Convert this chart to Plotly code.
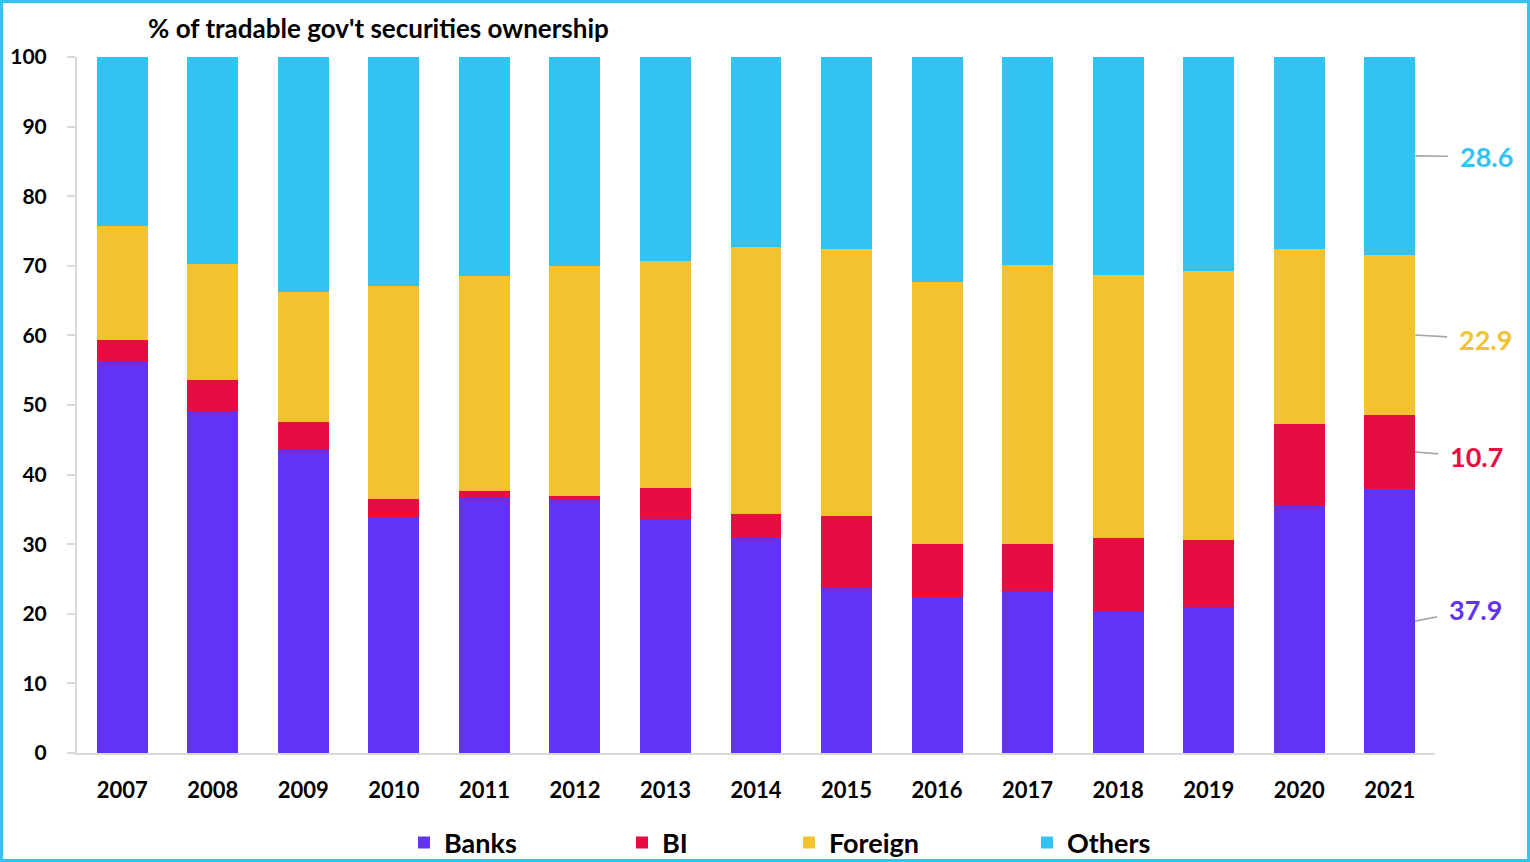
import plotly.graph_objects as go

years = ["2007", "2008", "2009", "2010", "2011", "2012", "2013", "2014",
         "2015", "2016", "2017", "2018", "2019", "2020", "2021"]
banks = [56.2, 49.1, 43.5, 33.9, 36.6, 36.5, 33.6, 30.9, 23.9, 22.4, 23.3, 20.3, 21.0, 35.5, 37.9]
bi = [3.1, 4.5, 4.1, 2.6, 1.0, 0.4, 4.5, 3.4, 10.2, 7.6, 6.7, 10.6, 9.6, 11.8, 10.7]
foreign = [16.4, 16.7, 18.6, 30.6, 30.9, 33.1, 32.6, 38.4, 38.3, 37.7, 40.1, 37.8, 38.7, 25.1, 22.9]
others = [24.3, 29.7, 33.8, 32.9, 31.5, 30.0, 29.3, 27.3, 27.6, 32.3, 29.9, 31.3, 30.7, 27.6, 28.6]

series_names = ["Banks", "BI", "Foreign", "Others"]
series_vals = [banks, bi, foreign, others]
colors = ["#6333F5", "#E60D43", "#F2C230", "#33C3F3"]

FONT = "Lato"
W, H = 1530, 862
ML, MR, MT, MB = 77, 95, 57, 109
PW, PH = W - ML - MR, H - MT - MB
BARGAP = 0.437

fig = go.Figure()
legend_names = ["legend", "legend2", "legend3", "legend4"]
for name, vals, col, lg in zip(series_names, series_vals, colors, legend_names):
    fig.add_trace(go.Bar(x=years, y=vals, name=name, marker=dict(color=col, line=dict(width=0)),
                         legend=lg))

# legends positioned individually (pixel x of each item start), relative to the container
legend_px = [404, 622, 789, 1027]
legend_cfg = {}
for lg, px in zip(legend_names, legend_px):
    legend_cfg[lg] = dict(
        xref="container", yref="container",
        x=px / W, xanchor="left",
        y=1 - 843 / H, yanchor="middle",
        orientation="h", bgcolor="rgba(0,0,0,0)",
        font=dict(family=FONT, size=27, color="#000000", weight="bold"),
        borderwidth=0,
    )

# right-side labels for last year
label_offsets = [(60, -12), (61, 5), (70, 4), (71, 1)]
cum = 0
annotations = []
half = (1 - BARGAP) / 2
for vals, col, (ax, ay) in zip(series_vals, colors, label_offsets):
    v = vals[-1]
    mid = cum + v / 2
    cum += v
    annotations.append(dict(
        x=len(years) - 1 + half, y=mid, xref="x", yref="y",
        text=f"{v:.1f}", showarrow=True, arrowhead=0, arrowwidth=1.6,
        arrowcolor="#A6A6A6", ax=ax, ay=ay, borderpad=11,
        font=dict(family=FONT, size=27, color=col, weight="bold"),
    ))

annotations.append(dict(
    x=(378 - ML) / PW, y=(MT + PH - 28) / PH, xref="paper", yref="paper",
    text="% of tradable gov't securities ownership", showarrow=False,
    xanchor="center", yanchor="middle",
    font=dict(family=FONT, size=26, color="#000000", weight="bold"),
))

border = dict(type="rect", xref="paper", yref="paper",
              x0=(1.5 - ML) / PW, x1=(W - 1.5 - ML) / PW,
              y0=(MT + PH - (H - 1.5)) / PH, y1=(MT + PH - 1.5) / PH,
              line=dict(color="#33C3F3", width=3), fillcolor="rgba(0,0,0,0)", layer="above")

fig.update_layout(
    width=W, height=H, autosize=False,
    margin=dict(l=ML, r=MR, t=MT, b=MB, pad=0, autoexpand=False),
    barmode="stack", bargap=BARGAP,
    plot_bgcolor="white", paper_bgcolor="white",
    showlegend=True,
    annotations=annotations,
    shapes=[border],
    xaxis=dict(
        type="category", range=[-0.5, len(years) - 0.5],
        showgrid=False, showline=True, linecolor="#D9D9D9", linewidth=2,
        ticks="", ticklabelstandoff=17,
        tickfont=dict(family=FONT, size=22, color="#000000", weight="bold"),
        zeroline=False,
    ),
    yaxis=dict(
        range=[0, 100], tickvals=list(range(0, 101, 10)),
        showgrid=False, showline=True, linecolor="#D9D9D9", linewidth=2,
        ticks="outside", ticklen=8, tickcolor="#D9D9D9", tickwidth=2,
        ticklabelstandoff=16,
        tickfont=dict(family=FONT, size=21, color="#000000", weight="bold"),
        zeroline=False,
    ),
    **legend_cfg,
)

fig.write_html("out.html",
               config={"responsive": False, "displayModeBar": False},
               post_script="document.body.style.margin='0';document.body.style.padding='0';document.body.style.overflow='hidden';")
